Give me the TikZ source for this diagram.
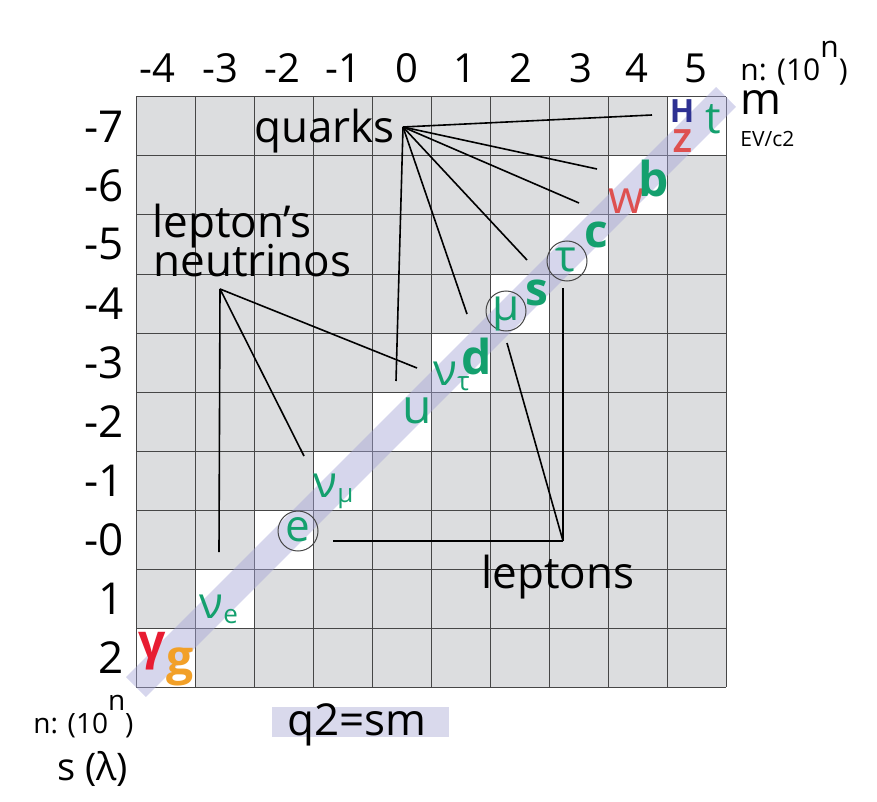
\documentclass[tikz,border=0pt]{standalone}
\usepackage{fontspec}
\setmainfont{Open Sans}
\usetikzlibrary{positioning}

\definecolor{cellgray}{RGB}{220,221,223}
\definecolor{gridline}{RGB}{70,70,70}
\definecolor{bandcol}{RGB}{165,165,215}
\definecolor{qbox}{RGB}{217,217,236}
\definecolor{pgreen}{RGB}{20,160,110}
\definecolor{pred}{RGB}{222,80,80}
\definecolor{pblue}{RGB}{46,49,146}
\definecolor{gred}{RGB}{232,28,50}
\definecolor{gorange}{RGB}{242,160,40}

\newcommand{\fsz}[1]{\fontsize{#1}{#1}\selectfont}
\newcommand{\lsub}[1]{\raisebox{-2.5pt}{\fsz{13}#1}}

\begin{document}
\begin{tikzpicture}[
  x=0.5pt, y=-0.5pt,
  lbl/.style={inner sep=0pt, text=black},
  part/.style={inner sep=0pt, text=pgreen},
  link/.style={line width=0.8pt, black},
  gridln/.style={line width=0.5pt, gridline},
  ring/.style={line width=0.5pt, gridline},
]
\useasboundingbox (0,0) rectangle (877,802);

% --- Grid geometry ---
\def\gx{136}   % left edge
\def\gy{97}    % top edge
\def\cellW{59} % one cell

% Cells: gray, with the white diagonal
\fill[cellgray] (\gx,\gy) rectangle ({\gx+10*\cellW},{\gy+10*\cellW});
\foreach \r in {0,...,9}
  \fill[white] ({\gx+(9-\r)*\cellW},{\gy+\r*\cellW}) rectangle ++(\cellW,\cellW);

% Grid lines
\foreach \i in {0,...,10} {
  \draw[gridln] ({\gx+\i*\cellW},\gy) -- ({\gx+\i*\cellW},{\gy+10*\cellW});
  \draw[gridln] (\gx,{\gy+\i*\cellW}) -- ({\gx+10*\cellW},{\gy+\i*\cellW});
}

% Diagonal band
\draw[bandcol, opacity=0.45, line width=14pt] (\gx,{\gy+10*\cellW}) -- ({\gx+10*\cellW},\gy);

% --- Axis labels ---
\foreach \n/\x in {-4/157,-3/220,-2/282,-1/343,0/407,1/465,2/521,3/581,4/637,5/696}
  \node[lbl, font=\fsz{20}, anchor=base] (col\n) at (\x,83) {\n};
\foreach \n [count=\r from 0] in {-7,-6,-5,-4,-3,-2,-1,-0,1,2}
  \node[lbl, font=\fsz{22}, anchor=east] (row\r) at ({\gx-12},{\gy+\r*\cellW+29.5}) {\n};

\node[lbl, font=\fsz{15}, anchor=base west] (nTop) at (740,81) {n: (10\raisebox{11.5pt}{n})};
\node[lbl, font=\fsz{22}, anchor=base west] (mLbl) at (740,115) {m};
\node[lbl, font=\fsz{10.5}, anchor=base west] (evLbl) at (740,147) {EV/c2};
\node[lbl, font=\fsz{14}, anchor=base west] (nBot) at (33,733) {n: (10\raisebox{11.5pt}{n})};
\node[lbl, font=\fsz{19}, anchor=base west] (sLbl) at (57,780) {s (λ)};

% q2=sm tag
\fill[qbox] (272,707) rectangle (449,737);
\node[lbl, font=\fsz{22}, anchor=base] (qsm) at (357,735) {q2=sm};

% --- Group labels ---
\node[lbl, font=\fsz{22}, anchor=base west] (quarks) at (254,143) {quarks};
\node[lbl, font=\fsz{22}, anchor=base west] (lepNu) at (152,237) {lepton’s};
\node[lbl, font=\fsz{22}, anchor=base west] (neutr) at (153,276) {neutrinos};
\node[lbl, font=\fsz{22}, anchor=base west] (leptons) at (481,588) {leptons};

% Connectors: quarks
\coordinate (qhub) at (403,127);
\foreach \p/\x/\y in {H/652/115, b/597/169, c/579/203, s/527/260, d/467/314, u/396/381} {
  \coordinate (q\p) at (\x,\y);
  \draw[link] (qhub) -- (q\p);
}

% Connectors: lepton's neutrinos
\coordinate (nhub) at (220,289);
\foreach \p/\x/\y in {e/219/552, mu/304/456, tau/417/368} {
  \coordinate (n\p) at (\x,\y);
  \draw[link] (nhub) -- (n\p);
}

% Connectors: leptons
\coordinate (lhub) at (563,541);
\foreach \p/\x/\y in {e/333/541, mu/507/343, tau/563/288} {
  \coordinate (l\p) at (\x,\y);
  \draw[link] (lhub) -- (l\p);
}

% Circled leptons
\draw[ring] (298,531) circle[radius=20];
\draw[ring] (506,311) circle[radius=20];
\draw[ring] (567,261) circle[radius=20];

% --- Particles ---
\node[part, text=pblue, font=\fsz{16}\bfseries] (pH) at (682,111) {H};
\node[part, text=pred, font=\fsz{16}\bfseries] (pZ) at (682.5,141) {Z};
\node[part, font=\fsz{22}] (pt) at (713.5,119) {t};
\node[part, text=pred, font=\fsz{23}] (pw) at (626,201) {w};
\node[part, font=\fsz{24}\bfseries] (pb) at (654,178.5) {b};
\node[part, font=\fsz{23}\bfseries] (pc) at (596.5,234.5) {c};
\node[part, font=\fsz{22}] (ptau) at (566,260) {τ};
\node[part, font=\fsz{23}\bfseries] (ps) at (537,292.5) {s};
\node[part, font=\fsz{22}] (pmu) at (506,314.5) {μ};
\node[part, font=\fsz{24}\bfseries] (pd) at (477,356) {d};
\node[part, font=\fsz{22}, anchor=base west] (pnut) at (433,385) {ν\lsub{τ}};
\node[part, font=\fsz{24}] (pu) at (417.5,411) {u};
\node[part, font=\fsz{22}, anchor=base west] (pnum) at (313,497) {ν\lsub{μ}};
\node[part, font=\fsz{22}] (pe) at (298,530) {e};
\node[part, font=\fsz{22}, anchor=base west] (pnue) at (199,618) {ν\lsub{e}};
\node[part, text=gred, font=\fsz{24}\bfseries] (pgam) at (152.5,651.5) {γ};
\node[part, text=gorange, font=\fsz{24}\bfseries] (pg) at (180,666.5) {g};

\end{tikzpicture}
\end{document}
